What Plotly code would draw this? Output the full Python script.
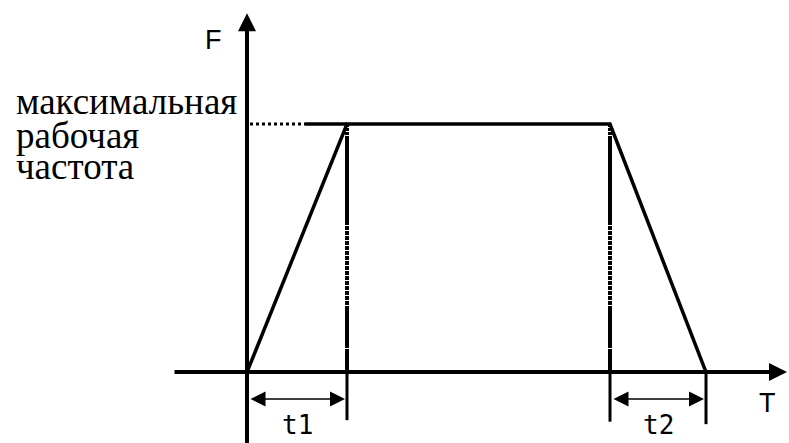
import plotly.graph_objects as go

# Data (time in units of t1, frequency normalized to max working frequency)
time_pts = [0.0, 1.0, 3.63, 4.59]
freq_pts = [0.0, 1.0, 1.0, 0.0]
label_lines = ["максимальная", "рабочая", "частота"]
axis_labels = {"F": "F", "T": "T"}
interval_labels = ["t1", "t2"]

X_MIN, X_MAX = -2.47, 5.42
Y_MIN, Y_MAX = -0.286, 1.5

fig = go.Figure()

# dotted level line from F axis to top of ramp
fig.add_trace(go.Scatter(x=[0.03, 0.58], y=[freq_pts[1], freq_pts[1]], mode="lines",
                         line=dict(color="black", width=3, dash="dot"), hoverinfo="skip"))
# solid top line extension
fig.add_trace(go.Scatter(x=[0.58, time_pts[1]], y=[freq_pts[1], freq_pts[1]], mode="lines",
                         line=dict(color="black", width=3.5), hoverinfo="skip"))
# vertical dash-dot lines at t1 end and t2 start
stripes = ",".join(["4px,1px"] * 16)
vdash = "3px,1px,3px,1px,3px,1px,89px,1px," + stripes + ",42px,1px,40px,1px"
for tx in [time_pts[1], time_pts[2]]:
    fig.add_trace(go.Scatter(x=[tx, tx], y=[freq_pts[1], 0], mode="lines",
                             line=dict(color="black", width=4, dash=vdash),
                             hoverinfo="skip"))
# trapezoid
fig.add_trace(go.Scatter(x=time_pts, y=freq_pts, mode="lines",
                         line=dict(color="black", width=3.5), hoverinfo="skip"))

# extension lines below axis
ext_ends = [Y_MIN - 0.05, -0.194, -0.2, -0.21]
for tx, ye in zip(time_pts, ext_ends):
    fig.add_trace(go.Scatter(x=[tx, tx], y=[0, ye], mode="lines",
                             line=dict(color="black", width=3), hoverinfo="skip"))

fig.update_layout(
    width=789, height=443,
    margin=dict(l=0, r=0, t=0, b=0),
    paper_bgcolor="white", plot_bgcolor="white",
    showlegend=False,
    xaxis=dict(range=[X_MIN, X_MAX], visible=False, fixedrange=True),
    yaxis=dict(range=[Y_MIN, Y_MAX], visible=False, fixedrange=True),
)

ann = []
# X axis arrow
ann.append(dict(x=5.4, y=0, ax=-0.74, ay=0, xref="x", yref="y", axref="x", ayref="y",
                showarrow=True, arrowhead=2, arrowsize=0.9, arrowwidth=4, arrowcolor="black", text=""))
# Y axis arrow
ann.append(dict(x=0, y=1.447, ax=0, ay=Y_MIN - 0.05, xref="x", yref="y", axref="x", ayref="y",
                showarrow=True, arrowhead=2, arrowsize=0.9, arrowwidth=4, arrowcolor="black", text=""))
# dimension arrows
dim_y = -0.109
for (a, b) in [(time_pts[0], time_pts[1]), (time_pts[2], time_pts[3])]:
    ann.append(dict(x=b - 0.02, y=dim_y, ax=a + 0.02, ay=dim_y, xref="x", yref="y", axref="x", ayref="y",
                    showarrow=True, arrowhead=2, startarrowhead=2, arrowside="end+start",
                    arrowsize=2, startarrowsize=2, arrowwidth=1.5, arrowcolor="black", text=""))
sans = dict(family="Liberation Sans, Arial, sans-serif", size=27, color="black")
ann.append(dict(x=-0.34, y=1.339, xref="x", yref="y", text=axis_labels["F"], showarrow=False, font=sans))
ann.append(dict(x=5.2, y=-0.125, xref="x", yref="y", text=axis_labels["T"], showarrow=False, font=sans))
for lab, (a, b) in zip(interval_labels, [(time_pts[0], time_pts[1]), (time_pts[2], time_pts[3])]):
    ann.append(dict(x=(a + b) / 2, y=-0.215, xref="x", yref="y", text=lab, showarrow=False,
                    font=dict(family="DejaVu Sans Mono, monospace", size=26, color="black")))
serif = dict(family="Liberation Serif", size=37, color="black")
line_y = [1.092, 0.955, 0.83]
for txt, yy in zip(label_lines, line_y):
    ann.append(dict(x=-2.33, y=yy, xref="x", yref="y", text=txt, showarrow=False,
                    xanchor="left", font=serif))
fig.update_layout(annotations=ann)

fig.write_html("out.html", config={"displayModeBar": False},
               post_script="document.body.style.margin='0';document.body.style.overflow='hidden';")
